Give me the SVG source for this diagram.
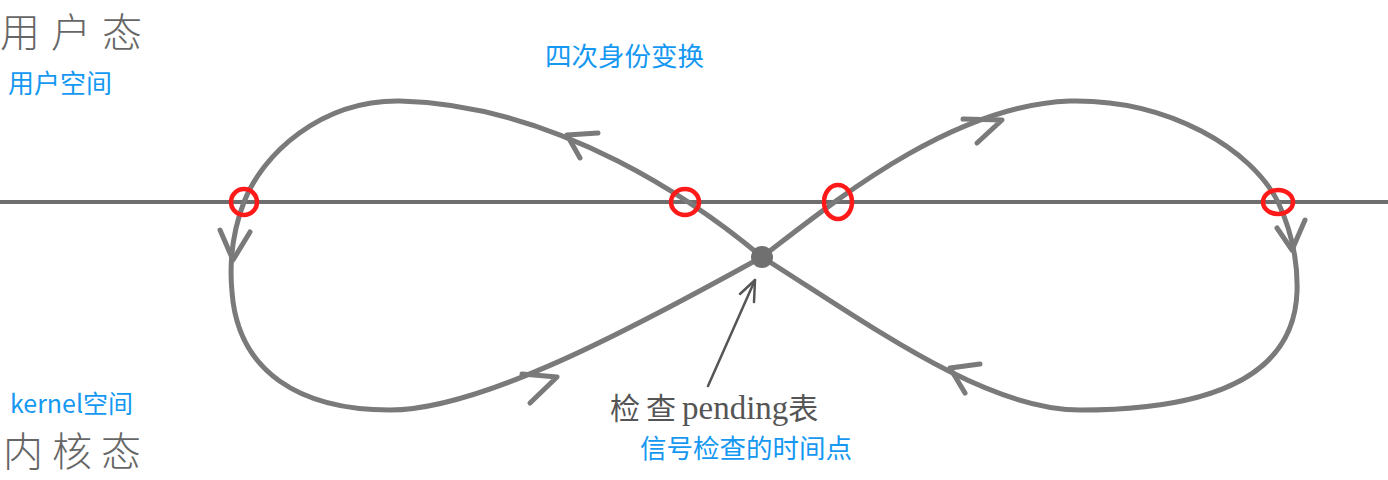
<svg xmlns="http://www.w3.org/2000/svg" width="1388" height="480" viewBox="0 0 1388 480">
<style>
.curve{fill:none;stroke:#7a7a7a;stroke-width:5;stroke-linecap:round;stroke-linejoin:round}
.head{fill:none;stroke:#7a7a7a;stroke-width:5;stroke-linecap:round;stroke-linejoin:round}
.mark{fill:none;stroke:#ff1a1a;stroke-width:4.5}
.blue{font-family:"Noto Sans CJK SC","Noto Sans",sans-serif;fill:#1598f2}
.state{font-family:"Noto Sans CJK SC",sans-serif;font-weight:300;fill:#666}
.note{font-family:"Liberation Serif","Noto Sans CJK SC",serif;fill:#555}
</style>
<rect width="1388" height="480" fill="#fff"/>
<g id="boundary">
<line x1="0" y1="202" x2="1388" y2="202" stroke="#6e6e6e" stroke-width="4"/>
</g>
<g id="connectors">
<path class="curve" d="M762 257 C700 205 560 105 400 101 C320 100 262 155 244 202 C234 228 229 260 232 292 C238 372 300 410 390 410 C480 410 630 330 762 257"/>
<path class="curve" d="M762 257 C830 205 950 105 1070 101 C1170 99 1252 150 1278 202 C1292 232 1298 262 1297 292 C1294 372 1220 410 1080 410 C985 410 870 325 762 257"/>
<polyline class="head" points="598,133 567,135 580,158"/>
<polyline class="head" points="220,230 233,260 250,232"/>
<polyline class="head" points="522,374 557,377 530,403"/>
<polyline class="head" points="963,119 1002,120 977,143"/>
<polyline class="head" points="1277,228 1292,250 1305,220"/>
<polyline class="head" points="980,364 950,368 965,393"/>
<line x1="708" y1="386" x2="755" y2="280" stroke="#555" stroke-width="2.5" stroke-linecap="round"/>
<polyline points="740,294 755,280 754,302" fill="none" stroke="#555" stroke-width="2.5" stroke-linecap="round" stroke-linejoin="round"/>
</g>
<g id="center-point">
<circle cx="762" cy="257" r="11" fill="#707070"/>
</g>
<g id="crossings">
<ellipse class="mark" cx="244" cy="202" rx="13" ry="13"/>
<ellipse class="mark" cx="685" cy="202" rx="14" ry="13"/>
<ellipse class="mark" cx="838" cy="202" rx="14" ry="17"/>
<ellipse class="mark" cx="1278" cy="202" rx="15" ry="12"/>
</g>
<g id="labels">
<text class="state" x="0" y="47" font-size="40" letter-spacing="11">用户态</text>
<text class="blue" x="8" y="93" font-size="26">用户空间</text>
<text class="blue" x="545" y="66" font-size="26.5">四次身份变换</text>
<text class="blue" x="10" y="413" font-size="25">kernel空间</text>
<text class="state" x="3" y="466" font-size="40" letter-spacing="9">内核态</text>
<text class="note" x="610" y="419" font-size="30"><tspan letter-spacing="6">检查</tspan><tspan font-size="33">pending</tspan><tspan>表</tspan></text>
<text class="blue" x="640" y="458" font-size="26.5">信号检查的时间点</text>
</g>
</svg>
